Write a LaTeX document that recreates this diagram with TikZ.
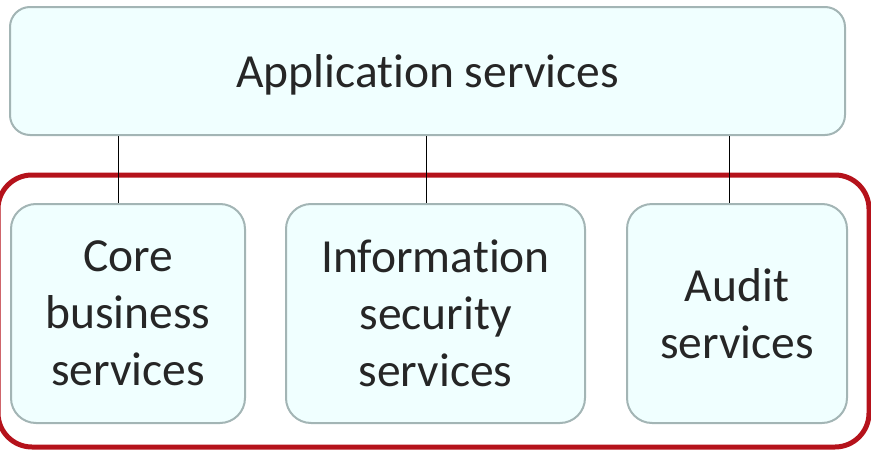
\documentclass[tikz,border=0pt]{standalone}
\usepackage{fontspec}
\setmainfont{Carlito}[Ligatures=NoCommon]
\definecolor{boxfill}{HTML}{F0FFFF}
\definecolor{boxline}{HTML}{A3B5B5}
\definecolor{redline}{HTML}{B5121B}
\definecolor{txt}{HTML}{262626}
\begin{document}
\begin{tikzpicture}[x=1pt,y=-1pt,
  svc/.style={draw=boxline, line width=2pt, fill=boxfill, rounded corners=25pt,
    align=center, text=txt, font=\fontsize{47.5}{57}\selectfont, inner sep=0pt},
  link/.style={draw=black, line width=1pt}]
\useasboundingbox (0,0) rectangle (871,450);
\draw[redline, line width=5pt, rounded corners=34pt] (-2,175) rectangle (869,447);
\node[svc, rounded corners=20pt, minimum width=835pt, minimum height=128pt] (top) at (427.5,71) {\raisebox{-4pt}[\height][\depth]{Application services}};
\node[svc, minimum width=234pt, minimum height=219pt] (b1) at (128,313.5) {Core\\business\\services};
\node[svc, minimum width=299pt, minimum height=219pt] (b2) at (435.5,313.5) {Information\\security\\services};
\node[svc, minimum width=220pt, minimum height=219pt] (b3) at (737,313.5) {Audit\\services};
\coordinate (k1) at (118,0);
\coordinate (k2) at (426,0);
\coordinate (k3) at (729,0);
\draw[link] (k1 |- top.south) -- (k1 |- b1.north);
\draw[link] (k2 |- top.south) -- (k2 |- b2.north);
\draw[link] (k3 |- top.south) -- (k3 |- b3.north);
\end{tikzpicture}
\end{document}
